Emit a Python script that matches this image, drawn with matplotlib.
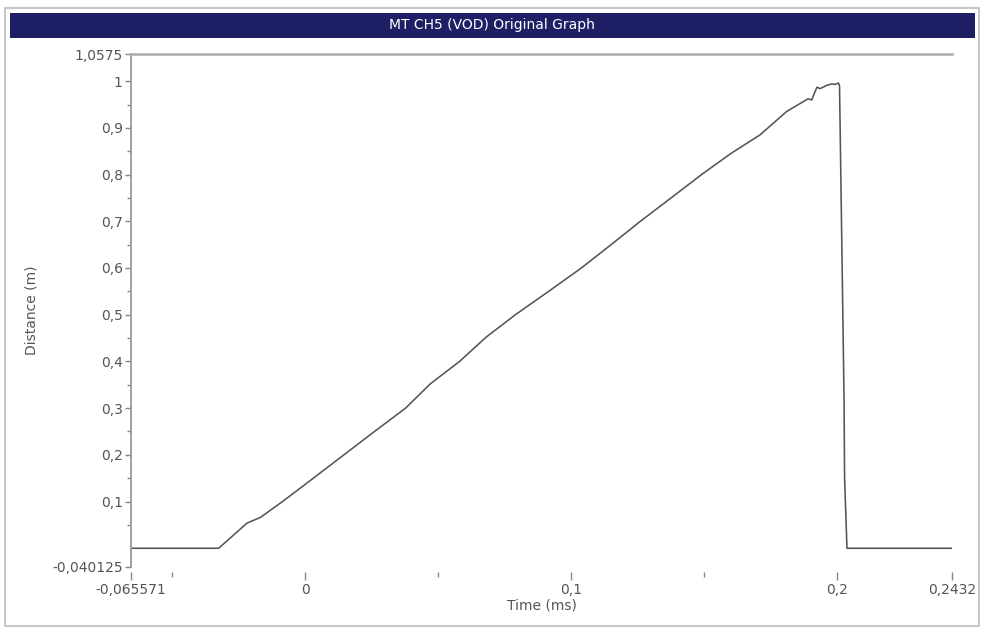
import matplotlib
matplotlib.use('Agg')
import matplotlib.pyplot as plt
from matplotlib.patches import Rectangle
from matplotlib.ticker import FixedLocator

# readings taken off the original trace (time in ms, distance in m)
time_ms = [-0.065571, -0.0326, -0.0219, -0.0169, -0.0086, 0.0, 0.0145, 0.026,
           0.0377, 0.047, 0.058, 0.068, 0.079, 0.0915, 0.1038, 0.115, 0.126,
           0.138, 0.149, 0.160, 0.171, 0.181, 0.189, 0.1905, 0.191, 0.1924,
           0.1936, 0.1961, 0.198, 0.1992, 0.2005, 0.2009, 0.2026, 0.2028,
           0.2037, 0.2432]
distance_m = [0.0, 0.0, 0.054, 0.066, 0.100, 0.137, 0.200, 0.250,
              0.300, 0.352, 0.400, 0.452, 0.500, 0.550, 0.600, 0.650, 0.700,
              0.752, 0.800, 0.845, 0.885, 0.935, 0.962, 0.960, 0.968, 0.987,
              0.984, 0.991, 0.994, 0.993, 0.996, 0.990, 0.320, 0.150,
              0.0, 0.0]

x_ticks = [-0.065571, 0, 0.1, 0.2, 0.2432]
x_labels = ['-0,065571', '0', '0,1', '0,2', '0,2432']
x_minor = [-0.05, 0.05, 0.15]
y_ticks = [-0.040125, 0.1, 0.2, 0.3, 0.4, 0.5, 0.6, 0.7, 0.8, 0.9, 1.0, 1.0575]
y_labels = ['-0,040125', '0,1', '0,2', '0,3', '0,4', '0,5', '0,6', '0,7',
            '0,8', '0,9', '1', '1,0575']
y_minor = [0.05, 0.15, 0.25, 0.35, 0.45, 0.55, 0.65, 0.75, 0.85, 0.95]

title = 'MT CH5 (VOD) Original Graph'
txt = '#555555'
fs = 10

fig = plt.figure(figsize=(9.87, 6.33), dpi=100)
W, H = 987, 633

# outer frame and title band
fig.patches.append(Rectangle((5 / W, 1 - 626 / H), 974 / W, 618 / H,
                             transform=fig.transFigure, fill=False,
                             edgecolor='#c8c8c8', lw=1.5))
fig.patches.append(Rectangle((10 / W, 1 - 38 / H), 965 / W, 25 / H,
                             transform=fig.transFigure, facecolor='#1f1f66',
                             edgecolor='none'))
fig.text(492 / W, 1 - 25.5 / H, title, color='white', fontsize=fs,
         ha='center', va='center')

ax = fig.add_axes([131 / W, 1 - 567 / H, 821 / W, 512.7 / H])
ax.plot(time_ms, distance_m, color='#555555', lw=1.15)

ax.set_xlim(-0.065571, 0.2432)
ax.set_ylim(-0.040125, 1.0575)

ax.spines['right'].set_visible(False)
ax.spines['bottom'].set_color('none')
ax.spines['bottom'].set_position(('outward', 3.5))
ax.spines['left'].set_color('#999999')
ax.spines['left'].set_linewidth(1.3)
ax.spines['top'].set_color('#aaaaaa')
ax.spines['top'].set_linewidth(1.8)

ax.set_xticks(x_ticks)
ax.set_xticklabels(x_labels)
ax.xaxis.set_minor_locator(FixedLocator(x_minor))
ax.set_yticks(y_ticks)
ax.set_yticklabels(y_labels)
ax.yaxis.set_minor_locator(FixedLocator(y_minor))

ax.tick_params(axis='x', which='major', length=6, width=1, color='#888888',
               labelsize=fs, labelcolor=txt, pad=2)
ax.tick_params(axis='x', which='minor', length=3.5, width=1, color='#888888')
ax.tick_params(axis='y', which='major', length=4, width=1, color='#888888',
               labelsize=fs, labelcolor=txt, pad=2)
ax.tick_params(axis='y', which='minor', length=3, width=1, color='#888888')

ax.set_xlabel('Time (ms)', fontsize=fs, color=txt, labelpad=1)
ax.set_ylabel('Distance (m)', fontsize=fs, color=txt, labelpad=10)

fig.savefig('out.png', dpi=100, facecolor='white')
